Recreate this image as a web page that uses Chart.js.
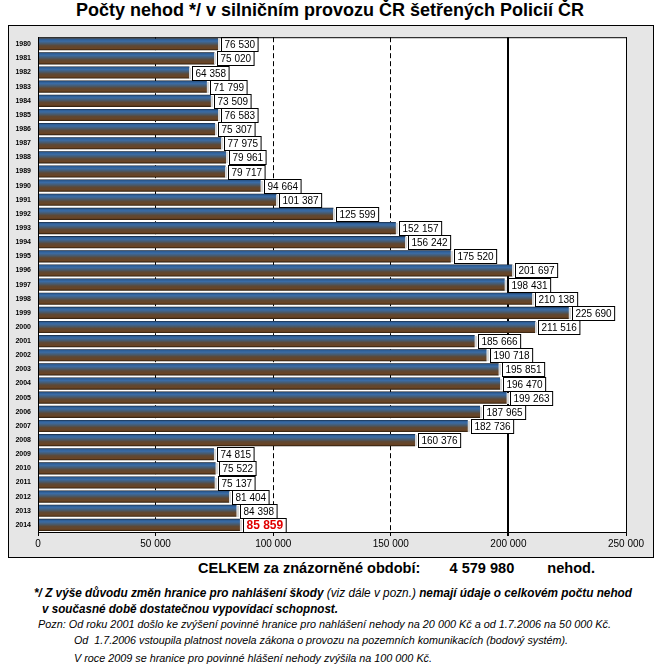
<!DOCTYPE html>
<html>
<head>
<meta charset="utf-8">
<script src="https://cdn.jsdelivr.net/npm/chart.js@4.4.1/dist/chart.umd.min.js"></script>
<style>
  body { margin: 0; background: #fff; font-family: "Liberation Sans", Arial, sans-serif; }
  #page { position: relative; width: 660px; height: 665px; overflow: hidden; }
  #title { position: absolute; left: 0; top: 0px; width: 660px; text-align: center; font-weight: bold; font-size: 18px; color: #000; }
  #box { position: absolute; left: 8px; top: 25px; width: 644px; height: 531px; border: 1px solid #000; background: #e6e6e6; }
  .t { position: absolute; white-space: nowrap; color: #000; transform-origin: 0 0; }
  .it { font-style: italic; }
</style>
</head>
<body>
<div id="page">
  <div id="title">Počty nehod */ v silničním provozu ČR šetřených Policií ČR</div>
  <div id="box"><canvas id="grafico" width="644" height="531"></canvas></div>

  <div class="t" data-w="397" style="left:198px; top:559px; font-size:15px; font-weight:bold;">CELKEM za znázorněné období:<span style="margin-left:30px">4 579 980</span><span style="margin-left:34px">nehod.</span></div>
  <div class="t it" data-w="598" style="left:34px; top:585px; font-size:13px; font-weight:bold;">*/ Z výše důvodu změn hranice pro nahlášení škody <span style="font-weight:normal">(viz dále v pozn.)</span> nemají údaje o celkovém počtu nehod</div>
  <div class="t it" data-w="296" style="left:42px; top:601px; font-size:13px; font-weight:bold;">v současné době dostatečnou vypovídací schopnost.</div>
  <div class="t it" data-w="573" style="left:38px; top:618px; font-size:11px;">Pozn: Od roku 2001 došlo ke zvýšení povinné hranice pro nahlášení nehody na 20 000 Kč a od 1.7.2006 na 50 000 Kč.</div>
  <div class="t it" data-w="494" style="left:74px; top:634px; font-size:11px;">Od&nbsp; 1.7.2006 vstoupila platnost novela zákona o provozu na pozemních komunikacích (bodový systém).</div>
  <div class="t it" data-w="358" style="left:74px; top:652px; font-size:11px;">V roce 2009 se hranice pro povinné hlášení nehody zvýšila na 100 000 Kč.</div>
</div>
<script>
var years = ['1980','1981','1982','1983','1984','1985','1986','1987','1988','1989',
             '1990','1991','1992','1993','1994','1995','1996','1997','1998','1999',
             '2000','2001','2002','2003','2004','2005','2006','2007','2008','2009',
             '2010','2011','2012','2013','2014'];
var nehody = [76530, 75020, 64358, 71799, 73509, 76583, 75307, 77975, 79961, 79717,
              94664, 101387, 125599, 152157, 156242, 175520, 201697, 198431, 210138, 225690,
              211516, 185666, 190718, 195851, 196470, 199263, 187965, 182736, 160376, 74815,
              75522, 75137, 81404, 84398, 85859];
var xTicks = [0, 50000, 100000, 150000, 200000, 250000];

function fmt(n) {
    return String(n).replace(/\B(?=(\d{3})+(?!\d))/g, ' ');
}

// squeeze footer lines to the width they have in the original
var lines = document.querySelectorAll('.t');
for (var k = 0; k < lines.length; k++) {
    var el = lines[k];
    var w = el.getBoundingClientRect().width;
    var target = parseFloat(el.getAttribute('data-w'));
    el.style.transform = 'scaleX(' + (target / w) + ')';
}

// gradient for each bar (blue top, brown bottom)
function barColor(ctx) {
    var chart = ctx.chart;
    if (!chart.chartArea || !chart.scales.y) return '#4a6a90';
    var y = chart.scales.y.getPixelForValue(ctx.dataIndex);
    var h = 6.2;
    var g = chart.ctx.createLinearGradient(0, y - h, 0, y + h);
    g.addColorStop(0, '#0c1018');
    g.addColorStop(0.09, '#2c5a90');
    g.addColorStop(0.25, '#3a6ca6');
    g.addColorStop(0.45, '#485a6c');
    g.addColorStop(0.62, '#5e4834');
    g.addColorStop(0.85, '#6a4424');
    g.addColorStop(1, '#24180a');
    return g;
}

var plotBg = {
    id: 'plotBg',
    beforeDraw: function(chart) {
        var a = chart.chartArea;
        var c = chart.ctx;
        c.save();
        c.fillStyle = '#fff';
        c.fillRect(a.left, a.top, a.right - a.left, a.bottom - a.top);
        c.restore();
    },
    afterDraw: function(chart) {
        var a = chart.chartArea;
        var c = chart.ctx;
        c.save();
        c.strokeStyle = '#000';
        c.lineWidth = 1;
        c.strokeRect(a.left + 0.5, a.top + 0.5, a.right - a.left, a.bottom - a.top);
        c.restore();
    }
};

// value boxes next to bars
var valueBoxes = {
    id: 'valueBoxes',
    afterDatasetsDraw: function(chart) {
        var c = chart.ctx;
        var meta = chart.getDatasetMeta(0);
        c.save();
        for (var i = 0; i < meta.data.length; i++) {
            var el = meta.data[i];
            var last = (i == meta.data.length - 1);
            var txt = fmt(nehody[i]);
            c.font = last ? 'bold 12px "Liberation Sans", Arial' : '10px "Liberation Sans", Arial';
            var w = c.measureText(txt).width + 6;
            var bx = Math.round(el.x) + 3.5;
            var by = Math.round(el.y) - 6.5;
            // thin light edge at bar end
            c.fillStyle = '#d8d8d8';
            c.fillRect(Math.round(el.x), Math.round(el.y) - 5, 2, 11);
            c.fillStyle = '#fff';
            c.fillRect(bx, by, w, 14);
            c.strokeStyle = '#000';
            c.lineWidth = 1;
            c.strokeRect(bx, by, w, 14);
            c.fillStyle = last ? '#e00000' : '#000';
            c.textBaseline = 'middle';
            c.textAlign = 'left';
            c.fillText(txt, bx + 3, by + 7.5);
        }
        c.restore();
    }
};

var canvas = document.getElementById('grafico');
var graph = new Chart(canvas, {
    type: 'bar',
    data: {
        labels: years,
        datasets: [{
            data: nehody,
            backgroundColor: barColor,
            borderWidth: 0,
            barPercentage: 0.86,
            categoryPercentage: 1.0
        }]
    },
    options: {
        indexAxis: 'y',
        responsive: false,
        animation: false,
        events: [],
        layout: { padding: { top: 3, right: 27, bottom: 0, left: 0 } },
        plugins: {
            legend: { display: false },
            tooltip: { enabled: false }
        },
        scales: {
            x: {
                type: 'linear',
                min: 0,
                max: 250000,
                afterBuildTicks: function(scale) {
                    scale.ticks = xTicks.map(function(v) { return { value: v }; });
                },
                afterFit: function(scale) { scale.height = 25; },
                ticks: {
                    color: '#000',
                    font: { family: '"Liberation Sans", Arial', size: 10 },
                    padding: 2,
                    maxRotation: 0,
                    callback: function(v) { return fmt(v); }
                },
                grid: {
                    color: '#000',
                    lineWidth: function(ctx) { return ctx.tick && ctx.tick.value == 200000 ? 2 : 1; },
                    drawTicks: true,
                    tickLength: 4,
                    tickColor: '#000'
                },
                border: {
                    color: '#000',
                    dash: function(ctx) {
                        var v = ctx.tick ? ctx.tick.value : 0;
                        return (v > 0 && v < 200000) ? [5, 3] : [];
                    }
                }
            },
            y: {
                type: 'category',
                afterFit: function(scale) { scale.width = 29; },
                ticks: {
                    color: '#000',
                    font: { family: '"Liberation Sans", Arial', size: 7, weight: 'bold' },
                    padding: 7,
                    autoSkip: false
                },
                grid: { display: false, drawTicks: false },
                border: { color: '#000' }
            }
        }
    },
    plugins: [plotBg, valueBoxes]
});
</script>
</body>
</html>
